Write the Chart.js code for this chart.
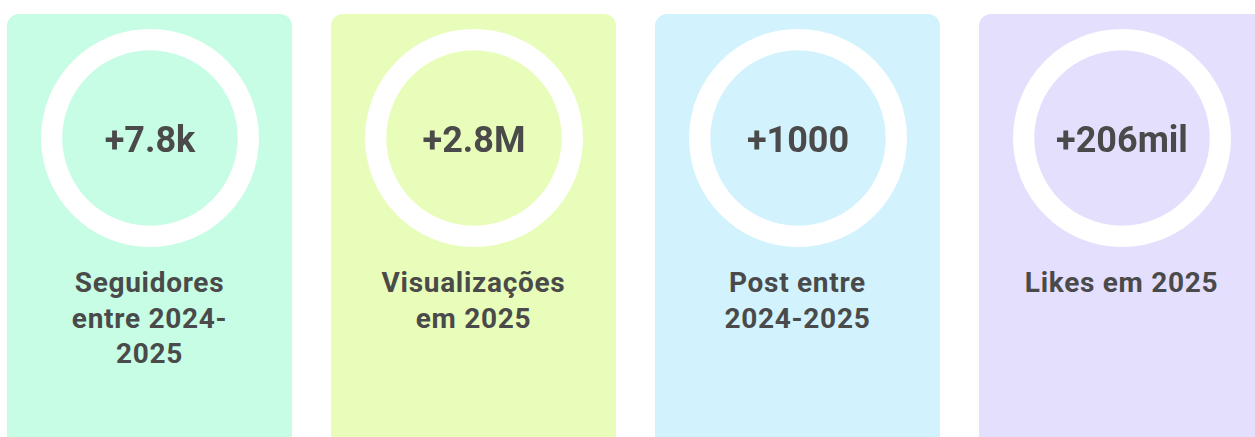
<!DOCTYPE html>
<html>
<head>
<meta charset="utf-8">
<script src="https://cdn.jsdelivr.net/npm/chart.js@4/dist/chart.umd.min.js"></script>
<style>
  html, body { margin: 0; padding: 0; background: #fff; }
  body { width: 1255px; height: 437px; overflow: hidden; position: relative; font-family: Roboto, "Noto Sans", sans-serif; }
  .card {
    position: absolute; top: 12px; width: 285px; height: 440px;
    border: 2px solid #fff; border-radius: 14px; box-sizing: content-box;
  }
  .ring { position: absolute; left: 34px; top: 15px; width: 218px; height: 218px; }
  .ring canvas { display: block; }
  .num {
    position: absolute; left: 0; top: 0; width: 218px; height: 218px;
    display: flex; align-items: center; justify-content: center;
    font-weight: 700; font-size: 36px; color: #4a4a4a; padding-top: 4px; box-sizing: border-box;
  }
  .label {
    position: absolute; left: 0; width: 285px; top: 251px; text-align: center;
    font-weight: 700; font-size: 28px; line-height: 35.5px; color: #4a4a4a; letter-spacing: 0.7px;
  }
</style>
</head>
<body>
<div id="cards"></div>
<script>
// valores dos indicadores
const valores = [7800, 2800000, 1000, 206000];
const rotulosValor = ["+7.8k", "+2.8M", "+1000", "+206mil"];
const titulos = [
  ["Seguidores", "entre 2024-", "2025"],
  ["Visualizações", "em 2025"],
  ["Post entre", "2024-2025"],
  ["Likes em 2025"]
];
const cores = ["#c6fde4", "#e7fdb9", "#d2f3fd", "#e5dffe"];

const container = document.getElementById("cards");

valores.forEach(function (v, i) {
  const card = document.createElement("div");
  card.className = "card";
  card.style.left = (5 + i * 324) + "px";
  card.style.background = cores[i];

  const ring = document.createElement("div");
  ring.className = "ring";
  const canvas = document.createElement("canvas");
  canvas.width = 218;
  canvas.height = 218;
  ring.appendChild(canvas);

  const num = document.createElement("div");
  num.className = "num";
  num.textContent = rotulosValor[i];
  ring.appendChild(num);
  card.appendChild(ring);

  const label = document.createElement("div");
  label.className = "label";
  label.innerHTML = titulos[i].join("<br>");
  card.appendChild(label);

  container.appendChild(card);

  // anel branco completo
  new Chart(canvas, {
    type: "doughnut",
    data: {
      labels: [titulos[i].join(" ")],
      datasets: [{
        data: [v],
        backgroundColor: "#ffffff",
        borderWidth: 0,
      }],
    },
    options: {
      responsive: false,
      animation: false,
      cutout: "80.5%",
      layout: { padding: 0 },
      plugins: { legend: { display: false }, tooltip: { enabled: false } },
    },
  });
});
</script>
</body>
</html>
